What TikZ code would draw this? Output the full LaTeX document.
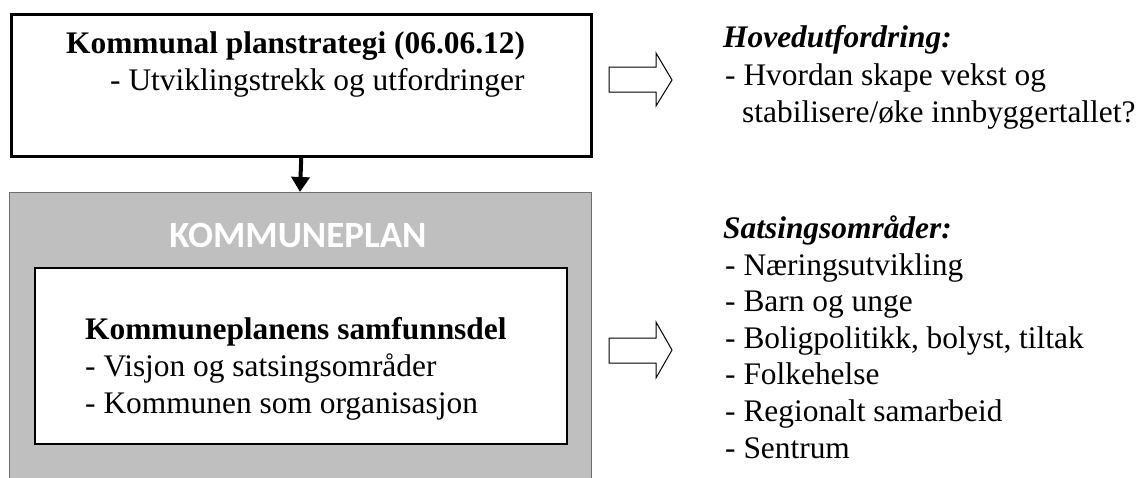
\documentclass[tikz,border=0pt]{standalone}
\usepackage{fontspec}
\setmainfont{Liberation Serif}
\newfontfamily\calibfont{Carlito}
\usetikzlibrary{arrows.meta}
\definecolor{boxgray}{RGB}{191,191,191}
\definecolor{edgegray}{RGB}{110,110,110}
\tikzset{
  txt/.style={anchor=base west,inner sep=0pt,font=\fontsize{31.4}{36}\selectfont},
  btxt/.style={txt,font=\fontsize{31.4}{36}\selectfont\bfseries},
  itxt/.style={txt,font=\fontsize{31.4}{36}\selectfont\bfseries\itshape},
  hollow/.style={draw=black,line width=1pt,fill=white,line join=miter},
}
\begin{document}
\begin{tikzpicture}[x=1pt,y=-1pt]
\useasboundingbox (0,0) rectangle (1144,477);
% top box
\node[draw,line width=2.5pt,minimum width=580pt,minimum height=142pt,inner sep=0pt,anchor=north west] (top) at (10,13) {};
\node[btxt] (t1) at (66,53) {Kommunal planstrategi (06.06.12)};
\node[txt] (t2) at (110,90) {- Utviklingstrekk og utfordringer};
% gray box
\fill[boxgray] (9,192) rectangle (591,490);
\draw[edgegray,line width=1pt] (9,490) -- (9,192) -- (591,192) -- (591,490);
\coordinate (graytop) at (300,192);
\node[inner sep=0pt,anchor=base,text=white,font=\fontsize{37}{40}\calibfont\bfseries] (kp) at (298,247) {KOMMUNEPLAN};
\draw[line width=4pt,-{Triangle[width=18pt,length=15pt]}] (top.south) -- (graytop);
% inner box
\node[draw,fill=white,line width=2pt,minimum width=532pt,minimum height=176pt,inner sep=0pt,anchor=north west] (inner) at (34,267) {};
\node[btxt] (i1) at (85,339) {Kommuneplanens samfunnsdel};
\node[txt] (i2) at (85,376) {- Visjon og satsingsområder};
\node[txt] (i3) at (85,413) {- Kommunen som organisasjon};
% hollow arrows
\draw[hollow] (609,67) -- (656,67) -- (656,53) -- (672,80) -- (656,106) -- (656,92) -- (609,92) -- cycle;
\draw[hollow] (609,338) -- (656,338) -- (656,322) -- (672,350) -- (656,378) -- (656,363) -- (609,363) -- cycle;
% right texts
\node[itxt] (h0) at (723,47) {Hovedutfordring:};
\node[txt] (h1) at (725,85) {- Hvordan skape vekst og};
\node[txt] (h2) at (742,122) {stabilisere/øke innbyggertallet?};
\node[itxt] (s0) at (723,238) {Satsingsområder:};
\node[txt] (s1) at (725,275) {- Næringsutvikling};
\node[txt] (s2) at (725,311.6) {- Barn og unge};
\node[txt] (s3) at (725,348.2) {- Boligpolitikk, bolyst, tiltak};
\node[txt] (s4) at (725,384.8) {- Folkehelse};
\node[txt] (s5) at (725,421.4) {- Regionalt samarbeid};
\node[txt] (s6) at (725,458) {- Sentrum};
\end{tikzpicture}
\end{document}
